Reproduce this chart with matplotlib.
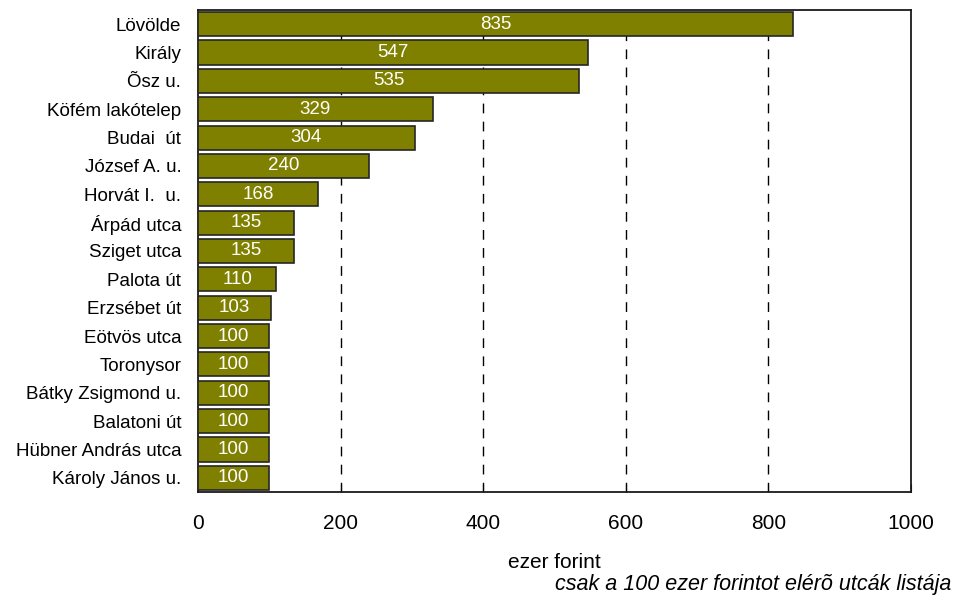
import matplotlib
matplotlib.use('Agg')
import matplotlib.pyplot as plt

plt.rcParams['font.family'] = ['Liberation Sans', 'DejaVu Sans']

streets = ['Lövölde', 'Király', 'Õsz u.', 'Köfém lakótelep', 'Budai  út', 'József A. u.',
           'Horvát I.  u.', 'Árpád utca', 'Sziget utca', 'Palota út', 'Erzsébet út',
           'Eötvös utca', 'Toronysor', 'Bátky Zsigmond u.', 'Balatoni út',
           'Hübner András utca', 'Károly János u.']
values = [835, 547, 535, 329, 304, 240, 168, 135, 135, 110, 103, 100, 100, 100, 100, 100, 100]
xticks = [0, 200, 400, 600, 800, 1000]

fig = plt.figure(figsize=(9.55, 6), dpi=100)
ax = fig.add_axes([0.2073, 0.18, 0.7466, 0.8034])

y = list(range(len(streets)))
bars = ax.barh(y, values, height=0.85, color='#808000', edgecolor='#262626', linewidth=1.2, zorder=3)
for b, v in zip(bars, values):
    ax.text(v / 2, b.get_y() + b.get_height() / 2, str(v), ha='center', va='center',
            color='white', fontsize=13.5, zorder=4)

ax.set_ylim(len(streets) - 0.5, -0.5)
ax.set_xlim(0, 1000)
ax.set_yticks(y)
ax.set_yticklabels(streets, fontsize=13.5)
ax.set_xticks(xticks)
ax.set_xticklabels([str(t) for t in xticks], fontsize=15)
ax.tick_params(axis='y', length=0, pad=12)
ax.tick_params(axis='x', direction='in', length=6, pad=16)
for t in xticks[1:-1]:
    ax.axvline(t, color='black', linestyle=(0, (7, 6)), linewidth=1, zorder=1)
for s in ax.spines.values():
    s.set_linewidth(1.3)
    s.set_color('#1a1a1a')

ax.set_xlabel('ezer forint', fontsize=15, labelpad=14)
fig.text(0.996, 0.008, 'csak a 100 ezer forintot elérõ utcák listája', ha='right', va='bottom',
         fontsize=15.5, style='italic')

fig.savefig('out.png', dpi=100)
